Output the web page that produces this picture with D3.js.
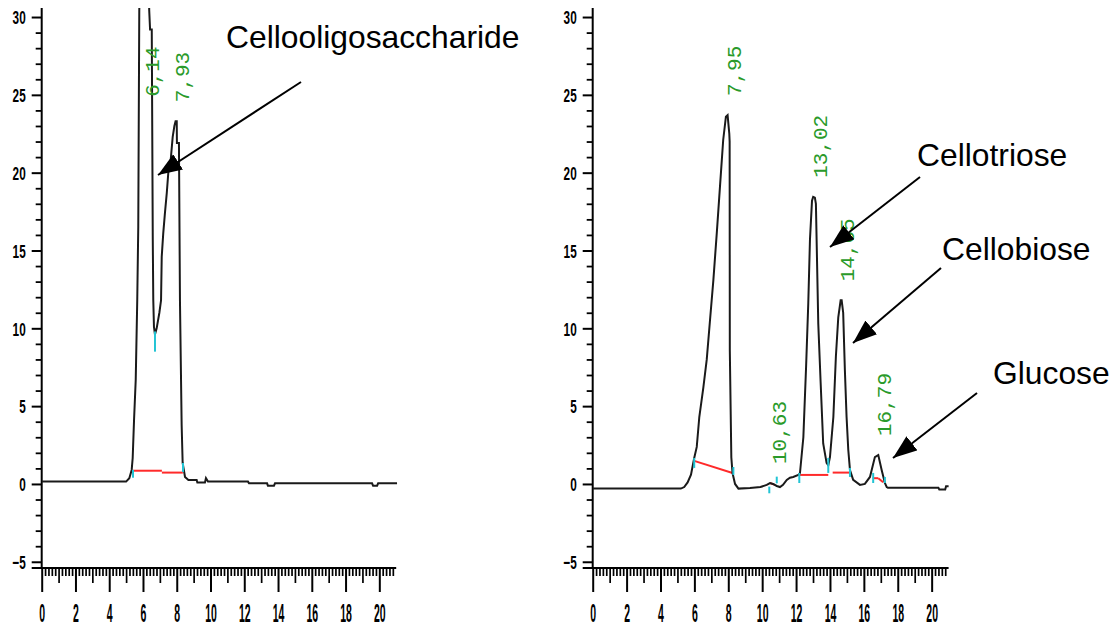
<!DOCTYPE html>
<html><head><meta charset="utf-8">
<script src="https://cdn.jsdelivr.net/npm/d3@7"></script>
<style>html,body{margin:0;padding:0;background:#fff;} svg{display:block;}</style>
</head><body><svg id="c" width="1116" height="628"></svg>
<script>
// ---------------- DATA ----------------
const xMajorTicks = [0, 2, 4, 6, 8, 10, 12, 14, 16, 18, 20];
const yMajorTicks = [-5, 0, 5, 10, 15, 20, 25, 30];

// Left chromatogram (retention time, signal)
const leftTime = [0, 5.0, 5.19, 5.33, 5.39, 5.47, 5.57, 5.66, 5.72, 5.78, 6.05, 6.37, 6.42, 6.52, 6.58, 6.61, 6.65, 6.71, 6.81, 6.97, 7.07, 7.11, 7.2, 7.3, 7.41, 7.5, 7.64, 7.76, 7.86, 7.93, 8.0, 8.01, 8.13, 8.19, 8.29, 8.35, 8.49, 8.69, 9.18, 9.22, 9.67, 9.73, 9.85, 12.22, 12.28, 13.35, 13.4, 13.76, 13.82, 19.57, 19.63, 19.87, 19.93, 21.05];
const leftSignal = [0.15, 0.15, 0.37, 0.9, 1.67, 4.1, 6.7, 11.8, 16.5, 30.4, 48, 30.4, 29.2, 29.2, 15.7, 11.8, 10.1, 9.6, 10.0, 11.0, 11.8, 14.6, 16.1, 17.4, 18.7, 20.0, 20.8, 22.3, 23.0, 23.3, 23.3, 21.9, 21.9, 11.8, 3.8, 1.35, 0.45, 0.26, 0.26, 0.1, 0.1, 0.37, 0.15, 0.15, 0.04, 0.04, -0.11, -0.11, 0.04, 0.04, -0.11, -0.11, 0.04, 0.04];

// Right chromatogram
const rightTime = [0, 5.2, 5.4, 5.6, 5.8, 5.99, 6.14, 6.29, 6.53, 6.73, 6.92, 7.12, 7.32, 7.51, 7.70, 7.86, 7.96, 8.06, 8.08, 8.09, 8.18, 8.25, 8.4, 8.6, 9.28, 9.9, 10.27, 10.46, 10.64, 10.86, 11.05, 11.23, 11.45, 11.64, 11.83, 12.13, 12.23, 12.43, 12.59, 12.72, 12.82, 12.94, 13.01, 13.11, 13.17, 13.31, 13.45, 13.6, 13.8, 13.9, 14.0, 14.2, 14.35, 14.49, 14.63, 14.69, 14.78, 14.88, 14.98, 15.08, 15.18, 15.37, 15.77, 16.06, 16.36, 16.65, 16.85, 17.05, 17.24, 17.35, 17.42, 20.4, 20.45, 20.8, 20.85, 21.0];
const rightSignal = [-0.3, -0.3, -0.2, 0.1, 0.6, 1.67, 2.38, 4.3, 6.2, 8.0, 10.5, 13.1, 16.1, 19.1, 22.1, 23.6, 23.7, 22.5, 22.0, 8.6, 1.7, 0.7, 0.0, -0.3, -0.26, -0.2, -0.06, 0.06, 0.0, -0.13, -0.2, -0.06, 0.26, 0.4, 0.45, 0.58, 0.7, 3.0, 7.5, 11.6, 15.7, 18.2, 18.45, 18.4, 18.0, 10.3, 6.5, 2.6, 1.35, 1.2, 1.73, 4.3, 8.2, 10.7, 11.8, 11.8, 11.0, 7.3, 4.3, 2.2, 0.9, 0.26, -0.06, 0.0, 0.45, 1.73, 1.86, 0.9, 0.06, -0.2, -0.25, -0.25, -0.35, -0.35, -0.15, -0.15];

// Integration baselines [t1, v1, t2, v2]
const leftBaselines = [[5.41, 0.85, 7.12, 0.85], [7.12, 0.73, 8.36, 0.73]];
const rightBaselines = [[5.99, 1.48, 8.3, 0.69], [10.46, 0.06, 10.75, -0.06], [12.16, 0.58, 13.9, 0.58], [14.16, 0.73, 15.18, 0.73], [16.52, 0.37, 16.85, 0.37], [16.85, 0.37, 17.14, 0.11]];

// Peak start/end markers [t, vLow, vHigh]
const leftMarkers = [[5.41, 0.4, 0.9], [8.37, 0.77, 1.35], [6.71, 8.5, 9.8]];
const rightMarkers = [[5.99, 1.03, 1.67], [8.3, 0.58, 1.09], [10.42, -0.6, -0.17], [10.86, 0.04, 0.47], [12.19, 0.06, 0.71], [13.9, 0.71, 1.67], [15.18, 0.45, 1.03], [16.55, 0.06, 0.71], [17.24, 0.06, 0.45]];

// Peak labels (retention time) and the level they sit above
const leftPeakTimes = [6.14, 7.93];
const leftPeakLabels = ["6,14", "7,93"];
const leftPeakLevels = [23.65, 23.3];
const rightPeakTimes = [7.95, 10.63, 13.02, 14.65, 16.79];
const rightPeakLabels = ["7,95", "10,63", "13,02", "14,65", "16,79"];
const rightPeakLevels = [23.7, 0.06, 18.45, 11.8, 1.86];

// Annotations
const annotationTexts = ["Cellooligosaccharide", "Cellotriose", "Cellobiose", "Glucose"];

// ---------------- LAYOUT ----------------
const TOP = 8, BOTTOM = 568;
const Y_DOMAIN = [-5.4, 30.58];
const panels = [
  {x0: 41.7, x1: 396.2, time: leftTime, signal: leftSignal, baselines: leftBaselines, markers: leftMarkers,
   peakT: leftPeakTimes, peakL: leftPeakLabels, peakV: leftPeakLevels},
  {x0: 592.7, x1: 948.6, time: rightTime, signal: rightSignal, baselines: rightBaselines, markers: rightMarkers,
   peakT: rightPeakTimes, peakL: rightPeakLabels, peakV: rightPeakLevels}
];
const annotationLayout = [
  {tx: 226, ty: 48, ax: 301, ay: 82, bx: 158, by: 175},
  {tx: 917, ty: 166, ax: 920, ay: 177, bx: 830, by: 247},
  {tx: 942, ty: 260, ax: 941, ay: 268, bx: 853, by: 343},
  {tx: 993, ty: 384, ax: 977, ay: 393, bx: 893, by: 458}
];

const svg = d3.select("#c");
svg.append("defs").append("marker")
  .attr("id", "ah").attr("markerUnits", "userSpaceOnUse")
  .attr("markerWidth", 26).attr("markerHeight", 20)
  .attr("refX", 24).attr("refY", 9).attr("orient", "auto")
  .append("path").attr("d", "M0,0 L24,9 L0,18 Z").attr("fill", "#000");

const GREEN = "#2a9a2a";

panels.forEach((p, pi) => {
  const x = d3.scaleLinear().domain([0, 21]).range([p.x0, p.x1]);
  const y = d3.scaleLinear().domain(Y_DOMAIN).range([BOTTOM, TOP]);
  const g = svg.append("g");

  g.append("clipPath").attr("id", "clip" + pi).append("rect")
    .attr("x", p.x0).attr("y", TOP).attr("width", p.x1 - p.x0 + 2).attr("height", BOTTOM - TOP);

  // X axis ticks
  const minor = d3.range(0, 106).map(i => i / 5).filter((t, i) => i % 5 !== 0);
  const mid = d3.range(1, 21, 2);
  const mk = (vals, size, fmt) => {
    const a = g.append("g").attr("transform", `translate(0,${BOTTOM})`)
      .call(d3.axisBottom(x).tickValues(vals).tickSize(size).tickSizeOuter(0).tickFormat(fmt));
    a.select(".domain").remove();
    a.attr("color", "#000");
    a.selectAll("line").attr("stroke-width", 1.7);
    return a;
  };
  mk(minor, 8, () => "");
  mk(mid, 15, () => "");
  const xa = mk(xMajorTicks, 24, d3.format("d"));
  xa.selectAll("line").attr("stroke-width", 2);
  xa.selectAll("text")
    .attr("y", 0).attr("dy", "0.36em")
    .attr("transform", `translate(0,${613 - BOTTOM}) scale(0.42,1)`)
    .attr("font-family", "Liberation Sans, Arial, sans-serif")
    .attr("font-weight", "bold").attr("font-size", 25).attr("fill", "#000");

  // Y axis ticks
  const yMinor = d3.range(-5, 31).filter(v => v % 5 !== 0);
  const ya1 = g.append("g").attr("transform", `translate(${p.x0},0)`)
    .call(d3.axisLeft(y).tickValues(yMinor).tickSize(6).tickSizeOuter(0).tickFormat(() => ""));
  ya1.select(".domain").remove();
  ya1.attr("color", "#000").selectAll("line").attr("stroke-width", 1.8);
  const ya2 = g.append("g").attr("transform", `translate(${p.x0},0)`)
    .call(d3.axisLeft(y).tickValues(yMajorTicks).tickSize(10).tickSizeOuter(0).tickFormat(d3.format("d")));
  ya2.select(".domain").remove();
  ya2.attr("color", "#000").selectAll("line").attr("stroke-width", 2);
  ya2.selectAll("text")
    .attr("x", 0).attr("dy", "0.36em")
    .attr("transform", `translate(-16,0) scale(0.62,1)`)
    .attr("text-anchor", "end")
    .attr("font-family", "Liberation Sans, Arial, sans-serif")
    .attr("font-weight", "bold").attr("font-size", 19).attr("fill", "#000");

  // Axis lines
  g.append("line").attr("x1", p.x0).attr("x2", p.x0).attr("y1", TOP).attr("y2", BOTTOM)
    .attr("stroke", "#000").attr("stroke-width", 2);
  g.append("line").attr("x1", p.x0 - 10).attr("x2", p.x1).attr("y1", BOTTOM).attr("y2", BOTTOM)
    .attr("stroke", "#000").attr("stroke-width", 2);

  // Baselines
  g.selectAll(".bl").data(p.baselines).join("line")
    .attr("x1", d => x(d[0])).attr("y1", d => y(d[1]))
    .attr("x2", d => x(d[2])).attr("y2", d => y(d[3]))
    .attr("stroke", "#ff2a2a").attr("stroke-width", 2);

  // Curve
  const pts = p.time.map((t, i) => [t, p.signal[i]]);
  g.append("path").datum(pts)
    .attr("clip-path", `url(#clip${pi})`)
    .attr("d", d3.line().x(d => x(d[0])).y(d => y(d[1])))
    .attr("fill", "none").attr("stroke", "#1a1a1a").attr("stroke-width", 2)
    .attr("stroke-linejoin", "miter");

  // Markers
  g.selectAll(".mk").data(p.markers).join("line")
    .attr("x1", d => x(d[0])).attr("x2", d => x(d[0]))
    .attr("y1", d => y(d[1])).attr("y2", d => y(d[2]))
    .attr("stroke", "#22c4d4").attr("stroke-width", 2);

  // Peak labels
  g.selectAll(".pl").data(p.peakT).join("text")
    .attr("transform", (t, i) => `translate(${x(t) + 13.5},${y(p.peakV[i]) - 19}) rotate(-90)`)
    .attr("font-family", "Liberation Mono, DejaVu Sans Mono, monospace")
    .attr("font-size", 21).attr("fill", GREEN)
    .text((t, i) => p.peakL[i]);
});

// Annotations
annotationLayout.forEach((a, i) => {
  svg.append("line").attr("x1", a.ax).attr("y1", a.ay).attr("x2", a.bx).attr("y2", a.by)
    .attr("stroke", "#000").attr("stroke-width", 2).attr("marker-end", "url(#ah)");
  svg.append("text").attr("x", a.tx).attr("y", a.ty)
    .attr("font-family", "Liberation Sans, Arial, sans-serif").attr("font-size", 31.8)
    .attr("fill", "#000").text(annotationTexts[i]);
});
</script></body></html>
